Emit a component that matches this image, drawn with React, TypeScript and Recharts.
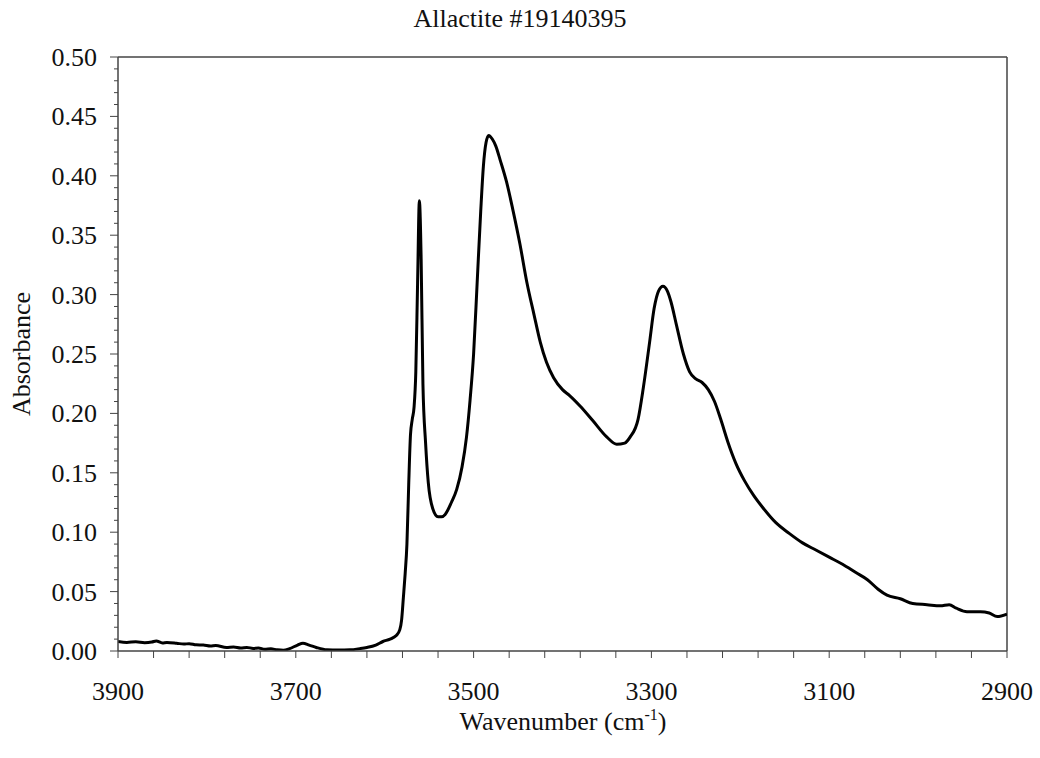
import React from 'react';
import { LineChart, Line, XAxis, YAxis, ReferenceLine } from 'recharts';

const wavenumbers = [
  3900, 3890, 3880, 3870, 3862, 3857, 3850, 3845, 3834, 3826, 3820, 3812, 3804, 3796, 3790,
  3778, 3770, 3762, 3755, 3748, 3742, 3735, 3728, 3721, 3714, 3707,
  3698, 3692, 3685, 3677, 3665, 3652, 3639, 3628, 3620, 3610, 3602, 3594, 3587, 3583,
  3581, 3579, 3577, 3575, 3573, 3571, 3569, 3567, 3565, 3563, 3561, 3559, 3557, 3554,
  3551, 3546, 3540, 3536, 3532, 3525, 3519, 3513, 3508, 3504, 3500, 3496, 3492, 3489,
  3486, 3483, 3479, 3475, 3470, 3463, 3456, 3448, 3440, 3432, 3425, 3418, 3410, 3400,
  3392, 3380, 3366, 3350, 3339, 3330, 3324, 3315, 3309, 3302, 3297, 3292, 3287, 3282,
  3278, 3272, 3264, 3257, 3250, 3243, 3236, 3229, 3222, 3214, 3205, 3195, 3185, 3175,
  3160, 3145, 3130, 3115, 3100, 3085, 3070, 3057, 3045, 3035, 3020, 3006, 2990, 2975,
  2965, 2957, 2945, 2930, 2920, 2911, 2900,
];

const absorbance = [
  0.008, 0.0072, 0.0078, 0.007, 0.0075, 0.0085, 0.0068, 0.0072, 0.0065, 0.0058, 0.0062, 0.0052, 0.005, 0.0042, 0.0046,
  0.003, 0.0034, 0.0026, 0.003, 0.0022, 0.0026, 0.0015, 0.0018, 0.001, 0.0006, 0.002,
  0.005, 0.0065, 0.005, 0.003, 0.001, 0.0008, 0.001, 0.002, 0.003, 0.005, 0.008, 0.010, 0.013, 0.018,
  0.026, 0.045, 0.065, 0.09, 0.14, 0.182, 0.195, 0.205, 0.235, 0.31, 0.379, 0.33, 0.225, 0.175,
  0.142, 0.12, 0.113, 0.113, 0.115, 0.125, 0.136, 0.155, 0.18, 0.211, 0.25, 0.31, 0.37, 0.408,
  0.428, 0.434, 0.431, 0.425, 0.413, 0.395, 0.372, 0.343, 0.31, 0.283, 0.26, 0.243, 0.23, 0.22,
  0.215, 0.206, 0.194, 0.18, 0.174, 0.175, 0.18, 0.195, 0.222, 0.26, 0.288, 0.303, 0.307, 0.303,
  0.294, 0.275, 0.25, 0.235, 0.229, 0.226, 0.22, 0.21, 0.195, 0.176, 0.158, 0.143, 0.131, 0.121,
  0.108, 0.099, 0.091, 0.085, 0.079, 0.073, 0.066, 0.06, 0.052, 0.047, 0.044, 0.040, 0.039, 0.038,
  0.039, 0.036, 0.033, 0.033, 0.032, 0.029, 0.031,
];

const xTicks = [
  3900, 3860, 3820, 3780, 3740, 3700, 3660, 3620, 3580, 3540, 3500, 3460, 3420,
  3380, 3340, 3300, 3260, 3220, 3180, 3140, 3100, 3060, 3020, 2980, 2940, 2900,
];
const xLabels = [3900, 3700, 3500, 3300, 3100, 2900];

const yTicks = [
  0, 0.01, 0.02, 0.03, 0.04, 0.05, 0.06, 0.07, 0.08, 0.09, 0.1, 0.11, 0.12, 0.13, 0.14,
  0.15, 0.16, 0.17, 0.18, 0.19, 0.2, 0.21, 0.22, 0.23, 0.24, 0.25, 0.26, 0.27, 0.28, 0.29,
  0.3, 0.31, 0.32, 0.33, 0.34, 0.35, 0.36, 0.37, 0.38, 0.39, 0.4, 0.41, 0.42, 0.43, 0.44,
  0.45, 0.46, 0.47, 0.48, 0.49, 0.5,
];
const yLabels = [0, 0.05, 0.1, 0.15, 0.2, 0.25, 0.3, 0.35, 0.4, 0.45, 0.5];

const data = wavenumbers.map((w, i) => ({ w, a: absorbance[i] }));

const FONT = "'Liberation Serif', 'Times New Roman', serif";
const AXIS = '#444';

const YTick = (props: any) => {
  const { x, y, payload } = props;
  const v = payload.value as number;
  const major = yLabels.some((m) => Math.abs(m - v) < 1e-6);
  return (
    <g>
      <line x1={x} x2={x - (major ? 8 : 4)} y1={y} y2={y} stroke={AXIS} strokeWidth={1} />
      {major && (
        <text x={x - 21} y={y + 9} textAnchor="end" fontFamily={FONT} fontSize={26} fill="#111">
          {v.toFixed(2)}
        </text>
      )}
    </g>
  );
};

const XTick = (props: any) => {
  const { x, y, payload } = props;
  const v = payload.value as number;
  const major = xLabels.includes(v);
  return (
    <g>
      <line x1={x} x2={x} y1={y} y2={y + 7} stroke={AXIS} strokeWidth={1} />
      {major && (
        <text x={x} y={y + 49} textAnchor="middle" fontFamily={FONT} fontSize={26} fill="#111">
          {v}
        </text>
      )}
    </g>
  );
};

export default function App() {
  return (
    <div
      style={{
        position: 'absolute',
        left: 0,
        top: 0,
        width: 1040,
        height: 758,
        background: '#fff',
        fontFamily: FONT,
        color: '#111',
      }}
    >
      <div
        style={{
          position: 'absolute',
          left: 0,
          top: 6,
          width: 1040,
          textAlign: 'center',
          fontSize: 26,
          lineHeight: '26px',
        }}
      >
        Allactite #19140395
      </div>
      <LineChart
        width={1040}
        height={758}
        data={data}
        margin={{ top: 57, right: 33, bottom: 0, left: 0 }}
      >
        <XAxis
          dataKey="w"
          type="number"
          domain={[2900, 3900]}
          reversed
          ticks={xTicks}
          interval={0}
          tickSize={0}
          tickMargin={0}
          tickLine={false}
          tick={<XTick />}
          height={107}
          axisLine={{ stroke: AXIS, strokeWidth: 1.5 }}
          allowDataOverflow
        />
        <YAxis
          type="number"
          domain={[0, 0.5]}
          ticks={yTicks}
          interval={0}
          tickSize={0}
          tickMargin={0}
          tickLine={false}
          tick={<YTick />}
          width={118}
          axisLine={{ stroke: AXIS, strokeWidth: 1.5 }}
          allowDataOverflow
        />
        <ReferenceLine y={0.5} stroke={AXIS} strokeWidth={1.5} />
        <ReferenceLine x={2900} stroke={AXIS} strokeWidth={1.5} />
        <Line
          type="monotone"
          dataKey="a"
          stroke="#000"
          strokeWidth={3}
          dot={false}
          isAnimationActive={false}
        />
      </LineChart>
      <div
        style={{
          position: 'absolute',
          left: 22,
          top: 354,
          transform: 'translate(-50%, -50%) rotate(-90deg)',
          fontSize: 26,
          lineHeight: '26px',
          whiteSpace: 'nowrap',
        }}
      >
        Absorbance
      </div>
      <div
        style={{
          position: 'absolute',
          left: 563,
          top: 722,
          transform: 'translate(-50%, -50%)',
          fontSize: 26,
          lineHeight: '26px',
          whiteSpace: 'nowrap',
        }}
      >
        Wavenumber (cm<sup style={{ fontSize: 16, lineHeight: 0 }}>-1</sup>)
      </div>
    </div>
  );
}
